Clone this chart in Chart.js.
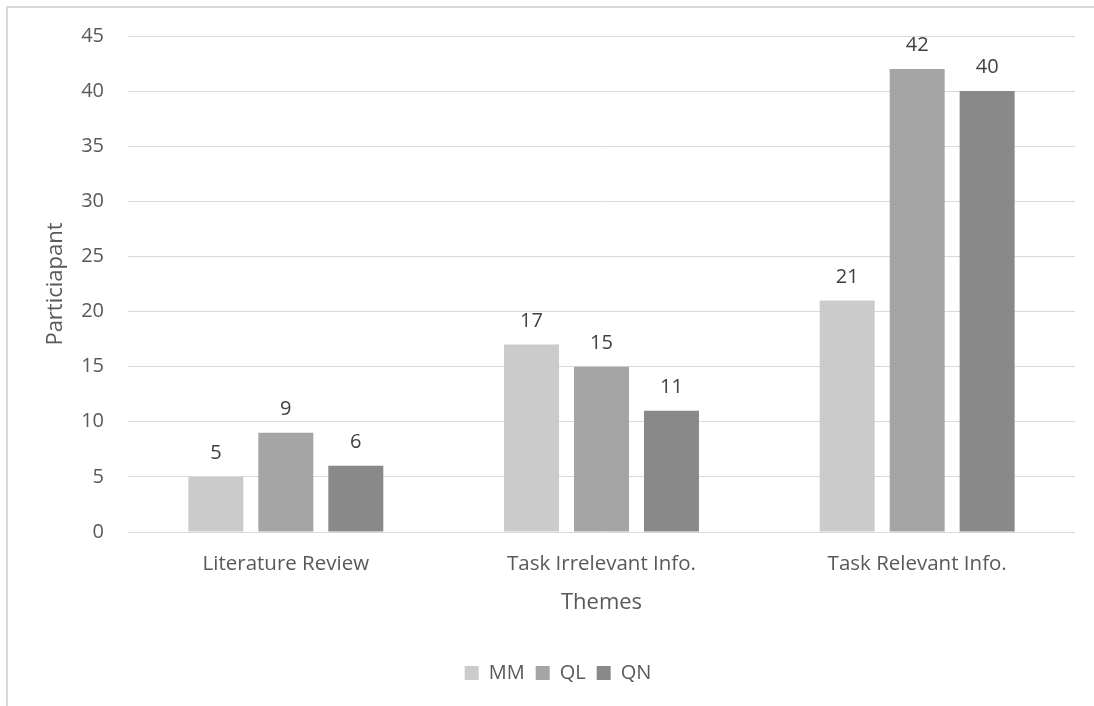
<!DOCTYPE html>
<html>
<head>
<meta charset="utf-8">
<script src="https://cdn.jsdelivr.net/npm/chart.js@4.4.1/dist/chart.umd.min.js"></script>
<style>
  body { margin: 0; background: #fff; }
  #frame { position: absolute; left: 6px; top: 6px; width: 1200px; height: 800px;
           border-left: 2px solid #d9d9d9; border-top: 2px solid #d9d9d9; }
  #wrap { position: absolute; left: 0; top: 0; width: 1094px; height: 706px; }
</style>
</head>
<body>
<div id="frame"></div>
<div id="wrap"><canvas id="mycanvas"></canvas></div>
<script>
var themes = ["Literature Review", "Task Irrelevant Info.", "Task Relevant Info."];
var mm = [5, 17, 21];
var ql = [9, 15, 42];
var qn = [6, 11, 40];
var yTicks = [0, 5, 10, 15, 20, 25, 30, 35, 40, 45];

var font = "'Open Sans', 'DejaVu Sans', sans-serif";

// values printed above each bar
var barValues = {
	id: "barValues",
	afterDatasetsDraw: function(chart){
		var ctx = chart.ctx;
		ctx.save();
		ctx.font = "20px " + font;
		ctx.fillStyle = "#404040";
		ctx.textAlign = "center";
		ctx.textBaseline = "alphabetic";
		chart.data.datasets.forEach(function(ds, i){
			var meta = chart.getDatasetMeta(i);
			meta.data.forEach(function(bar, j){
				ctx.fillText(ds.data[j], bar.x, bar.y - 18);
			});
		});
		ctx.restore();
	}
};

var chartdata = {
	labels: themes,
	datasets: [
		{ label: "MM", backgroundColor: "#cbcbcb", data: mm },
		{ label: "QL", backgroundColor: "#a5a5a5", data: ql },
		{ label: "QN", backgroundColor: "#898989", data: qn }
	]
};

var ctx = document.getElementById("mycanvas");
var BarGraph = new Chart(ctx, {
	type: "bar",
	data: chartdata,
	plugins: [barValues],
	options: {
		responsive: true,
		maintainAspectRatio: false,
		animation: false,
		layout: { padding: { left: 41, right: 19, top: 35, bottom: 13 } },
		datasets: { bar: { categoryPercentage: 0.665, barPercentage: 0.786 } },
		plugins: {
			legend: {
				position: "bottom",
				labels: {
					boxWidth: 14, boxHeight: 14, padding: 11,
					color: "#595959",
					font: { family: font, size: 20 }
				}
			},
			tooltip: { enabled: false }
		},
		scales: {
			x: {
				grid: { display: false },
				border: { display: false },
				ticks: { color: "#595959", padding: 12, font: { family: font, size: 20.5 } },
				title: { display: true, text: "Themes", color: "#595959",
					font: { family: font, size: 22 }, padding: { top: 0, bottom: 36 } },
				afterFit: function(scale){ scale.height = 120; }
			},
			y: {
				min: 0, max: 45,
				afterBuildTicks: function(scale){
					scale.ticks = yTicks.map(function(v){ return { value: v }; });
				},
				grid: { color: "#d9d9d9", lineWidth: 1, drawTicks: false },
				border: { display: false },
				ticks: { color: "#595959", padding: 24, font: { family: font, size: 20 } },
				title: { display: true, text: "Particiapant", color: "#595959",
					font: { family: font, size: 22 }, padding: { top: 2, bottom: 0 } },
				afterFit: function(scale){ scale.width = 87; }
			}
		}
	}
});
</script>
</body>
</html>
